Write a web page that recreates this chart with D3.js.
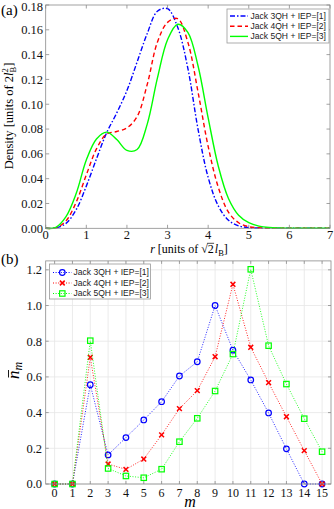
<!DOCTYPE html>
<html><head><meta charset="utf-8">
<script src="https://cdn.jsdelivr.net/npm/d3@7"></script>
<style>
html,body{margin:0;padding:0;background:#fff;}
svg{display:block;}
</style></head>
<body>
<svg id="c" width="334" height="509"></svg>
<script>
// ---------- data ----------
const rGrid = [0,0.25,0.5,0.75,1,1.25,1.5,1.75,2,2.25,2.5,2.75,3,3.25,3.5,3.75,4,4.25,4.5,4.75,5,5.25,5.5,5.75,6,6.25,6.5,6.75,7];
const density3QH = [0,0.0003,0.004,0.015,0.034,0.056,0.077,0.093,0.111,0.134,0.157,0.175,0.177,0.162,0.129,0.080,0.041,0.018,0.0065,0.002,0.0006,0.0002,0.0001,0,0,0,0,0,0];
const density4QH = [0,0.0004,0.006,0.021,0.043,0.064,0.076,0.078,0.081,0.090,0.116,0.150,0.166,0.169,0.150,0.110,0.066,0.033,0.013,0.0045,0.0013,0.0004,0.0001,0,0,0,0,0,0];
const density5QH = [0,0.0008,0.0094,0.028,0.055,0.072,0.0775,0.0715,0.0628,0.0635,0.084,0.121,0.152,0.1645,0.158,0.131,0.089,0.050,0.024,0.0105,0.0045,0.0018,0.0006,0.0002,0.0001,0,0,0,0];
const legendLabels = ["Jack 3QH + IEP=[1]","Jack 4QH + IEP=[2]","Jack 5QH + IEP=[3]"];
const rTicks = [0,1,2,3,4,5,6,7];
const densityTicks = [0,0.02,0.04,0.06,0.08,0.10,0.12,0.14,0.16,0.18];

const mValues = [0,1,2,3,4,5,6,7,8,9,10,11,12,13,14,15];
const nbar3QH = [0,0,0.556,0.163,0.26,0.359,0.461,0.605,0.685,1.0,0.75,0.583,0.398,0.197,0,0];
const nbar4QH = [0,0,0.71,0.112,0.082,0.14,0.275,0.422,0.523,0.713,1.119,0.766,0.568,0.377,0.187,0];
const nbar5QH = [0,0,0.803,0.087,0.045,0.035,0.083,0.237,0.368,0.521,0.728,1.203,0.775,0.56,0.366,0.181];
const nbarTicks = [0,0.2,0.4,0.6,0.8,1.0,1.2];

// ---------- styles ----------
const colors = ["#0000ff","#ff0000","#00ff00"];
const axisCol = "#8a8a8a";
const serif = "'Liberation Serif','DejaVu Serif',serif";
const sans = "'Liberation Sans',Arial,sans-serif";

const svg = d3.select("#c");

// ================= panel (a) =================
const xa = d3.scaleLinear().domain([0,7]).range([45.7,330]);
const ya = d3.scaleLinear().domain([0,0.18]).range([228.3,5]);
const ga = svg.append("g");

const seriesA = [density3QH, density4QH, density5QH];
const dashA = ["5,2,1.5,2","4.5,3","none"];
const line = d3.line().x((d,i)=>xa(rGrid[i])).y(d=>ya(d)).curve(d3.curveCatmullRom.alpha(0.5));
seriesA.forEach((s,k)=>{
  ga.append("path").attr("d", line(s)).attr("fill","none")
    .attr("stroke", colors[k]).attr("stroke-width",1.4)
    .attr("stroke-dasharray", dashA[k]);
});

function boxAxes(g, xs, ys, xt, yt, tlen){
  const [x0,x1] = xs.range(), [y0,y1] = ys.range();
  g.append("rect").attr("x",x0).attr("y",y1).attr("width",x1-x0).attr("height",y0-y1)
    .attr("fill","none").attr("stroke",axisCol).attr("stroke-width",0.8);
  xt.forEach(t=>{
    g.append("line").attr("x1",xs(t)).attr("x2",xs(t)).attr("y1",y0).attr("y2",y0-tlen).attr("stroke",axisCol).attr("stroke-width",0.8);
    g.append("line").attr("x1",xs(t)).attr("x2",xs(t)).attr("y1",y1).attr("y2",y1+tlen).attr("stroke",axisCol).attr("stroke-width",0.8);
  });
  yt.forEach(t=>{
    g.append("line").attr("x1",x0).attr("x2",x0+tlen).attr("y1",ys(t)).attr("y2",ys(t)).attr("stroke",axisCol).attr("stroke-width",0.8);
    g.append("line").attr("x1",x1).attr("x2",x1-tlen).attr("y1",ys(t)).attr("y2",ys(t)).attr("stroke",axisCol).attr("stroke-width",0.8);
  });
}
boxAxes(ga, xa, ya, rTicks, densityTicks, 3.5);

ga.selectAll(".xl").data(rTicks).join("text")
  .attr("x",d=>xa(d)).attr("y",238.8).attr("text-anchor","middle")
  .attr("font-family",serif).attr("font-size",12.5).attr("fill","#111").text(d=>d);
ga.selectAll(".yl").data(densityTicks).join("text")
  .attr("x",43).attr("y",d=>Math.max(ya(d),6.9)).attr("dy","0.35em").attr("text-anchor","end")
  .attr("font-family",serif).attr("font-size",12.5).attr("fill","#111").text(d=>d.toFixed(2));

// legend (a)
const la = ga.append("g");
la.append("rect").attr("x",227).attr("y",9).attr("width",102).attr("height",34)
  .attr("fill","#fff").attr("stroke","#999").attr("stroke-width",0.8);
legendLabels.forEach((t,k)=>{
  const yy = 16 + k*10.2;
  la.append("line").attr("x1",230).attr("x2",248).attr("y1",yy).attr("y2",yy)
    .attr("stroke",colors[k]).attr("stroke-width",1.4).attr("stroke-dasharray",dashA[k]);
  la.append("text").attr("x",250.5).attr("y",yy).attr("dy","0.35em")
    .attr("font-family",sans).attr("font-size",8.3).attr("fill","#222")
    .attr("textLength",75.5).attr("lengthAdjust","spacingAndGlyphs").text(t);
});

// labels (a)
svg.append("text").attr("x",1).attr("y",15).attr("font-family",serif).attr("font-size",15).text("(a)");
const dl = svg.append("text").attr("transform","translate(13,116) rotate(-90)")
  .attr("text-anchor","middle").attr("font-family",serif).attr("font-size",12.5);
dl.append("tspan").text("Density [units of 2");
dl.append("tspan").attr("font-style","italic").text("l");
dl.append("tspan").attr("font-size",8.5).attr("dy",-5).text("2");
dl.append("tspan").attr("font-size",8.5).attr("dx",-4.3).attr("dy",8).text("B");
dl.append("tspan").attr("dy",-3).text("]");

const rlY = 252.5;
const rl = svg.append("text").attr("x",189).attr("y",rlY).attr("text-anchor","middle")
  .attr("font-family",serif).attr("font-size",12);
rl.append("tspan").attr("font-style","italic").text("r");
rl.append("tspan").text(" [units of \u221A2");
rl.append("tspan").attr("font-style","italic").attr("dx",1).text("l");
rl.append("tspan").attr("font-size",8.5).attr("dy",3).text("B");
rl.append("tspan").attr("dy",-3).text("]");
{
  const n = rl.node();
  const eRad = n.getExtentOfChar(12), e2 = n.getExtentOfChar(13);
  const yTop = rlY - 9.2;
  svg.append("line").attr("x1",eRad.x+eRad.width-0.6).attr("x2",e2.x+e2.width+0.3)
    .attr("y1",yTop).attr("y2",yTop).attr("stroke","#000").attr("stroke-width",0.7);
}

// ================= panel (b) =================
const xb = d3.scaleLinear().domain([-0.5,15.5]).range([45.7,331]);
const yb = d3.scaleLinear().domain([0,1.25]).range([484,260.9]);
const gb = svg.append("g");

mValues.forEach(m=>{
  gb.append("line").attr("x1",xb(m)).attr("x2",xb(m)).attr("y1",yb(0)).attr("y2",yb(1.25))
    .attr("stroke","#e6e6e6").attr("stroke-width",0.8);
});
nbarTicks.forEach(t=>{
  gb.append("line").attr("x1",xb(-0.5)).attr("x2",xb(15.5)).attr("y1",yb(t)).attr("y2",yb(t))
    .attr("stroke","#e6e6e6").attr("stroke-width",0.8);
});

const seriesB = [nbar3QH, nbar4QH, nbar5QH];
const lineB = d3.line().x((d,i)=>xb(mValues[i])).y(d=>yb(d));
function marker(g, k, x, y){
  if(k===0){
    g.append("circle").attr("cx",x).attr("cy",y).attr("r",2.8).attr("fill","none").attr("stroke",colors[k]).attr("stroke-width",1.2);
  } else if(k===1){
    const s=2.4;
    g.append("path").attr("d",`M${x-s},${y-s}L${x+s},${y+s}M${x-s},${y+s}L${x+s},${y-s}`).attr("stroke",colors[k]).attr("stroke-width",1.5);
  } else {
    const s=2.7;
    g.append("rect").attr("x",x-s).attr("y",y-s).attr("width",2*s).attr("height",2*s).attr("fill","none").attr("stroke",colors[k]).attr("stroke-width",1.2);
  }
}
seriesB.forEach((s,k)=>{
  gb.append("path").attr("d",lineB(s)).attr("fill","none").attr("stroke",colors[k])
    .attr("stroke-width",1).attr("stroke-dasharray","1,1.6").attr("opacity",0.85);
  s.forEach((v,i)=>marker(gb,k,xb(mValues[i]),yb(v)));
});

boxAxes(gb, xb, yb, mValues, nbarTicks, 3);

gb.selectAll(".xl").data(mValues).join("text")
  .attr("x",d=>xb(d)).attr("y",496.5).attr("text-anchor","middle")
  .attr("font-family",serif).attr("font-size",12).attr("fill","#111").text(d=>d);
gb.selectAll(".yl").data(nbarTicks).join("text")
  .attr("x",42).attr("y",d=>yb(d)).attr("dy","0.35em").attr("text-anchor","end")
  .attr("font-family",serif).attr("font-size",12.5).attr("fill","#111").text(d=>d.toFixed(1));

// legend (b)
const lb = gb.append("g");
lb.append("rect").attr("x",49.5).attr("y",264).attr("width",101).attr("height",35)
  .attr("fill","#fff").attr("stroke","#999").attr("stroke-width",0.8);
legendLabels.forEach((t,k)=>{
  const yy = 272.5 + k*10.5;
  lb.append("line").attr("x1",53).attr("x2",71.5).attr("y1",yy).attr("y2",yy)
    .attr("stroke",colors[k]).attr("stroke-width",1).attr("stroke-dasharray","1,1.6");
  marker(lb,k,62.3,yy);
  lb.append("text").attr("x",73.5).attr("y",yy).attr("dy","0.35em")
    .attr("font-family",sans).attr("font-size",8.3).attr("fill","#222")
    .attr("textLength",75.5).attr("lengthAdjust","spacingAndGlyphs").text(t);
});

svg.append("text").attr("x",1).attr("y",264).attr("font-family",serif).attr("font-size",15).text("(b)");
const ng = svg.append("g").attr("transform","translate(19,370) rotate(-90)");
const nl = ng.append("text").attr("x",-9).attr("font-family",serif).attr("font-size",17);
nl.append("tspan").attr("font-style","italic").text("n");
nl.append("tspan").attr("font-style","italic").attr("font-size",12).attr("dy",3).text("m");
{
  const e = nl.node().getExtentOfChar(0);
  ng.append("line").attr("x1",e.x+1.5).attr("x2",e.x+e.width+0.5).attr("y1",-10.5).attr("y2",-10.5)
    .attr("stroke","#000").attr("stroke-width",0.9);
}
svg.append("text").attr("x",190).attr("y",507).attr("text-anchor","middle")
  .attr("font-family",serif).attr("font-style","italic").attr("font-size",16).text("m");
</script>
</body></html>
